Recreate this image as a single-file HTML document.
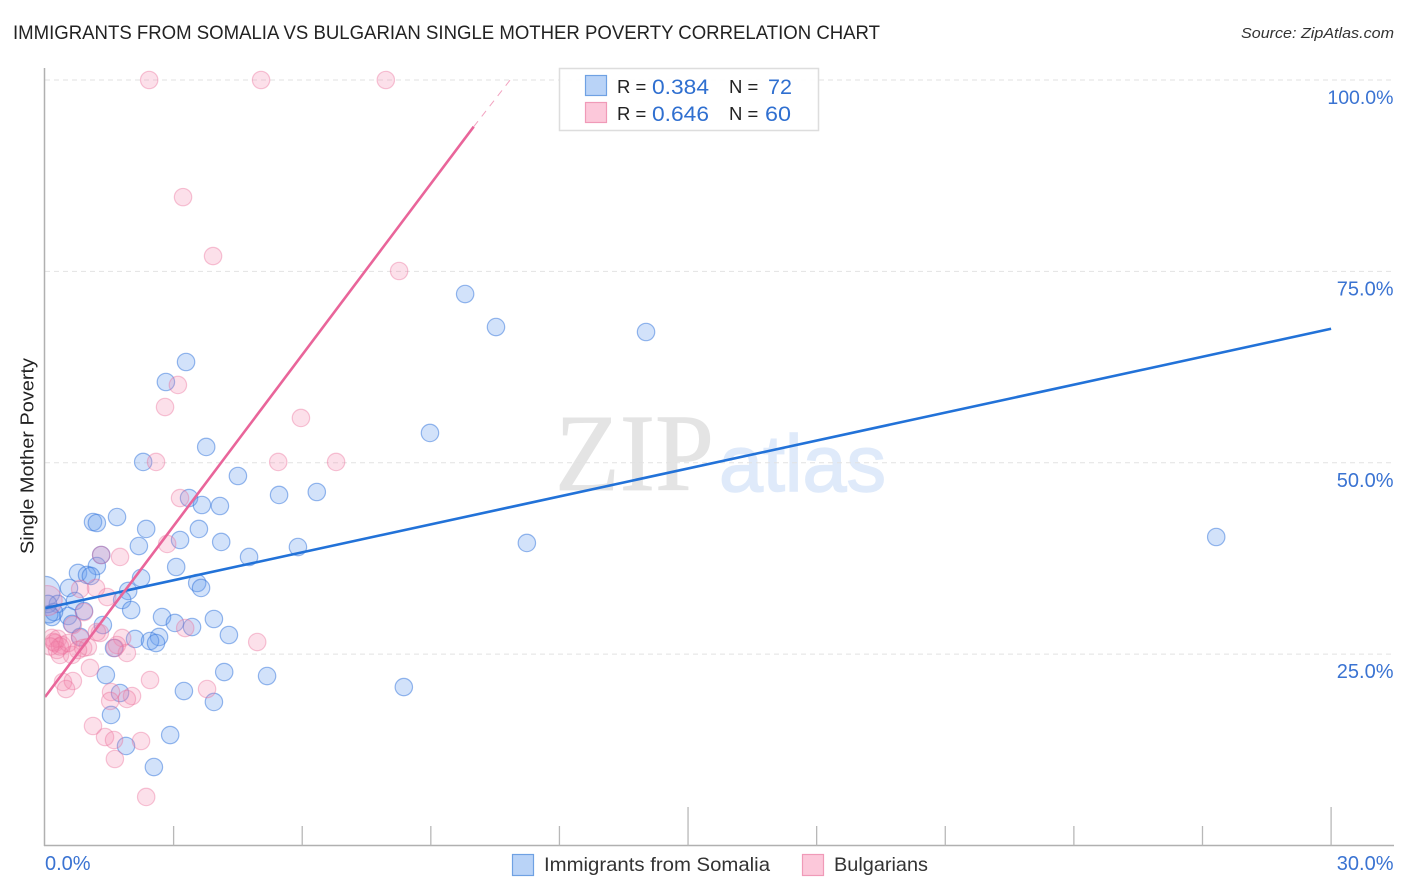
<!DOCTYPE html>
<html>
<head>
<meta charset="utf-8">
<title>Immigrants from Somalia vs Bulgarian Single Mother Poverty Correlation Chart</title>
<style>
html,body{margin:0;padding:0;background:#fff;width:1406px;height:892px;overflow:hidden}
svg{display:block;font-family:"Liberation Sans",sans-serif}
</style>
</head>
<body>
<svg id="chart" width="1406" height="892" viewBox="0 0 1406 892" xmlns="http://www.w3.org/2000/svg">
<text x="13" y="39" font-size="19.5" fill="#222" textLength="867" lengthAdjust="spacingAndGlyphs">IMMIGRANTS FROM SOMALIA VS BULGARIAN SINGLE MOTHER POVERTY CORRELATION CHART</text>
<text x="1394" y="38" font-size="15" font-style="italic" fill="#333" text-anchor="end" textLength="153" lengthAdjust="spacingAndGlyphs">Source: ZipAtlas.com</text>
<g>
<text x="555" y="490" font-family="'Liberation Serif',serif" font-size="110" fill="#e4e4e4" stroke="#e4e4e4" stroke-width="0.8" textLength="159" lengthAdjust="spacingAndGlyphs">ZIP</text>
<text x="719" y="491" font-size="80" fill="#dfeafa" stroke="#dfeafa" stroke-width="1.5" textLength="167" lengthAdjust="spacingAndGlyphs">atlas</text>
</g>
<g id="grid"></g>
<svg id="plot" x="45" y="60" width="1350" height="786" viewBox="45 60 1350 786" overflow="hidden">
<g id="points"></g>
<g id="lines"></g>
</svg>
<rect x="0" y="560" width="44.5" height="110" fill="#fff"/>
<g id="axes"></g>
<text transform="translate(33.500,456) rotate(-90)" font-size="18.500" fill="#222" text-anchor="middle" textLength="196" lengthAdjust="spacingAndGlyphs">Single Mother Poverty</text>

<g>
<rect x="559.500" y="68.500" width="259" height="62" fill="#fff" fill-opacity="0.9" stroke="#ddd" stroke-width="1.500"/>
<rect x="585.500" y="75.500" width="21" height="20" fill="#b9d3f7" stroke="#6fa1e3" stroke-width="1.200"/>
<rect x="585.500" y="102.500" width="21" height="20" fill="#fcc8da" stroke="#f09ab8" stroke-width="1.200"/>
<text x="617" y="93" font-size="18.500" fill="#222">R =</text>
<text x="652" y="94" font-size="21" fill="#2f6fd0" textLength="57" lengthAdjust="spacingAndGlyphs">0.384</text>
<text x="729" y="93" font-size="18.500" fill="#222">N =</text>
<text x="768" y="94" font-size="21" fill="#2f6fd0" textLength="24" lengthAdjust="spacingAndGlyphs">72</text>
<text x="617" y="120" font-size="18.500" fill="#222">R =</text>
<text x="652" y="121" font-size="21" fill="#2f6fd0" textLength="57" lengthAdjust="spacingAndGlyphs">0.646</text>
<text x="729" y="120" font-size="18.500" fill="#222">N =</text>
<text x="765" y="121" font-size="21" fill="#2f6fd0" textLength="26" lengthAdjust="spacingAndGlyphs">60</text>
</g>

<g>
<rect x="512.500" y="854.500" width="21" height="21" fill="#b9d3f7" stroke="#6fa1e3" stroke-width="1.200"/>
<text x="544" y="871" font-size="19.500" fill="#333" textLength="226" lengthAdjust="spacingAndGlyphs">Immigrants from Somalia</text>
<rect x="802.500" y="854.500" width="21" height="21" fill="#fcc8da" stroke="#f09ab8" stroke-width="1.200"/>
<text x="834" y="871" font-size="19.500" fill="#333" textLength="94" lengthAdjust="spacingAndGlyphs">Bulgarians</text>
</g>
</svg>
<script>
const somaliaX = [9.80,10.52,14.02,3.29,2.82,8.98,3.76,2.29,4.50,5.46,6.34,3.36,3.66,4.08,1.68,1.12,1.21,2.36,3.59,3.15,4.11,2.19,5.90,11.24,27.32,4.76,1.31,1.21,3.06,0.77,0.98,1.07,2.24,3.55,3.64,1.94,0.56,1.80,0.70,0.30,2.01,0.91,0.54,0.16,0.21,2.73,3.94,0.63,1.35,3.03,3.43,4.29,2.10,2.66,2.45,2.59,0.82,1.61,4.18,5.18,1.42,3.24,8.37,3.94,1.75,1.54,2.92,1.89,2.54,0.07,0.10];
const somaliaY = [72.04,67.73,67.08,63.16,60.55,53.89,52.06,50.10,48.27,45.79,46.18,45.39,44.48,44.35,42.91,42.26,42.13,41.35,41.35,39.91,39.65,39.12,38.99,39.52,40.30,37.69,37.95,36.51,36.38,35.60,35.34,35.21,34.94,34.29,33.64,33.25,33.64,32.07,31.94,31.55,30.76,30.63,29.98,29.85,30.50,29.85,29.59,28.94,28.80,29.07,28.54,27.50,26.98,27.24,26.71,26.45,27.24,25.80,22.66,22.14,22.27,20.18,20.70,18.75,19.92,17.05,14.43,13.00,10.25,31.55,30.20];
const somaliaLargeX = [0.00];
const somaliaLargeY = [33.20];
const bulgarianX = [2.43,5.04,7.95,3.22,3.92,8.26,3.10,2.80,5.97,2.59,5.44,6.79,3.15,2.85,1.75,1.31,1.45,1.19,0.82,0.91,0.65,1.80,3.27,4.95,1.28,1.21,0.82,0.16,0.30,0.23,0.40,0.28,0.35,0.63,0.54,0.89,1.00,1.68,1.91,1.63,1.05,0.42,0.65,0.49,2.45,3.78,1.54,1.52,2.03,1.91,1.12,1.40,1.61,2.24,1.63,2.36,0.20,0.35,0.77,0.12];
const bulgarianY = [100,100,100,84.7,77.0,75.05,60.16,57.28,55.85,50.1,50.1,50.1,45.39,39.39,37.69,37.95,32.46,33.64,33.51,30.50,28.80,27.11,28.41,26.58,27.76,27.89,27.11,27.11,27.00,26.45,26.19,25.54,24.89,24.89,26.45,25.80,25.93,26.19,25.15,25.80,23.19,21.36,21.49,20.44,21.62,20.44,20.05,18.88,19.53,19.14,15.61,14.17,13.78,13.65,11.30,6.34,26.60,26.00,25.54,26.00];
const bulgarianLargeX = [0.05];
const bulgarianLargeY = [32.00];
const somaliaTrendX = [0,30];
const somaliaTrendY = [31.0,67.5];
const bulgarianTrendX = [0,10.0];
const bulgarianTrendY = [19.4,93.9];
const bulgarianTrendDashX = [10.0,10.85];
const bulgarianTrendDashY = [93.9,100];
const yTickValues = [25,50,75,100];
const yTickLabels = ["25.0%","50.0%","75.0%","100.0%"];
const xTickValues = [3,6,9,12,15,18,21,24,27,30];
const xMajorTicks = [15,30];
const xEndValues = [0,30];
const xEndLabels = ["0.0%","30.0%"];

const NS = "http://www.w3.org/2000/svg";
function xScale(v){ return 45 + v * 42.87; }
function yScale(v){ return 845.5 - v * 7.655; }
function mk(parent, tag, attrs){
  const el = document.createElementNS(NS, tag);
  for (const k in attrs) el.setAttribute(k, attrs[k]);
  parent.appendChild(el);
  return el;
}
const grid = document.getElementById('grid');
const axes = document.getElementById('axes');
const points = document.getElementById('points');
const lines = document.getElementById('lines');

yTickValues.forEach(function(v, i){
  const gl = mk(grid, 'line', {x1:45, x2:1393, y1:yScale(v), y2:yScale(v), stroke:'#e2e2e2', 'stroke-width':1, 'stroke-dasharray':'5 4'});
  
  
  const t = mk(axes, 'text', {x:1393.5, y:yScale(v)+24, 'text-anchor':'end', 'font-size': yTickLabels[i].length > 5 ? 19.5 : 20, fill:'#3a73d2'});
  
  
  t.textContent = yTickLabels[i];
});

const yAxis = mk(axes, 'line', {x1:44.5, x2:44.5, y1:68, y2:846, stroke:'#b0b0b0', 'stroke-width':1.5});


const xAxis = mk(axes, 'line', {x1:44, x2:1394, y1:845.5, y2:845.5, stroke:'#b0b0b0', 'stroke-width':1.5});



xTickValues.forEach(function(v){
  const top = xMajorTicks.indexOf(v) >= 0 ? 807 : 826;
  const tick = mk(axes, 'line', {x1:xScale(v), x2:xScale(v), y1:top, y2:845.5, stroke:'#b8b8b8', 'stroke-width':1.3});
  
  
});
xEndValues.forEach(function(v, i){
  const t = mk(axes, 'text', {x: i === 0 ? xScale(v) : 1393.5, y:870, 'text-anchor': i === 0 ? 'start' : 'end', 'font-size':20, fill:'#3a73d2'});
  
  
  t.textContent = xEndLabels[i];
});

function drawSeries(xs, ys, r, fill, stroke, name){
  xs.forEach(function(v, i){
    const c = mk(points, 'circle', {cx:xScale(v), cy:yScale(ys[i]), r:r, fill:fill, stroke:stroke, 'stroke-width':1.2});
    
    
  });
}
const blueFill = 'rgba(105,160,238,0.3)', blueStroke = 'rgba(50,115,220,0.5)';
const pinkFill = 'rgba(243,130,170,0.25)', pinkStroke = 'rgba(235,105,150,0.38)';
drawSeries(somaliaLargeX, somaliaLargeY, 15, blueFill, blueStroke, 'somalia-point-large');
drawSeries(somaliaX, somaliaY, 8.7, blueFill, blueStroke, 'somalia-point');
drawSeries(bulgarianLargeX, bulgarianLargeY, 15, pinkFill, pinkStroke, 'bulgarian-point-large');
drawSeries(bulgarianX, bulgarianY, 8.7, pinkFill, pinkStroke, 'bulgarian-point');

const lineBlue = mk(lines, 'line', {x1:xScale(somaliaTrendX[0]), y1:yScale(somaliaTrendY[0]), x2:xScale(somaliaTrendX[1]), y2:yScale(somaliaTrendY[1]), stroke:'#2272d8', 'stroke-width':2.6});


const linePink = mk(lines, 'line', {x1:xScale(bulgarianTrendX[0]), y1:yScale(bulgarianTrendY[0]), x2:xScale(bulgarianTrendX[1]), y2:yScale(bulgarianTrendY[1]), stroke:'#e9659a', 'stroke-width':2.6});


const linePinkDash = mk(lines, 'line', {x1:xScale(bulgarianTrendDashX[0]), y1:yScale(bulgarianTrendDashY[0]), x2:xScale(bulgarianTrendDashX[1]), y2:yScale(bulgarianTrendDashY[1]), stroke:'#f2a3c0', 'stroke-width':1, 'stroke-dasharray':'7 6'});


</script>
</body>
</html>
